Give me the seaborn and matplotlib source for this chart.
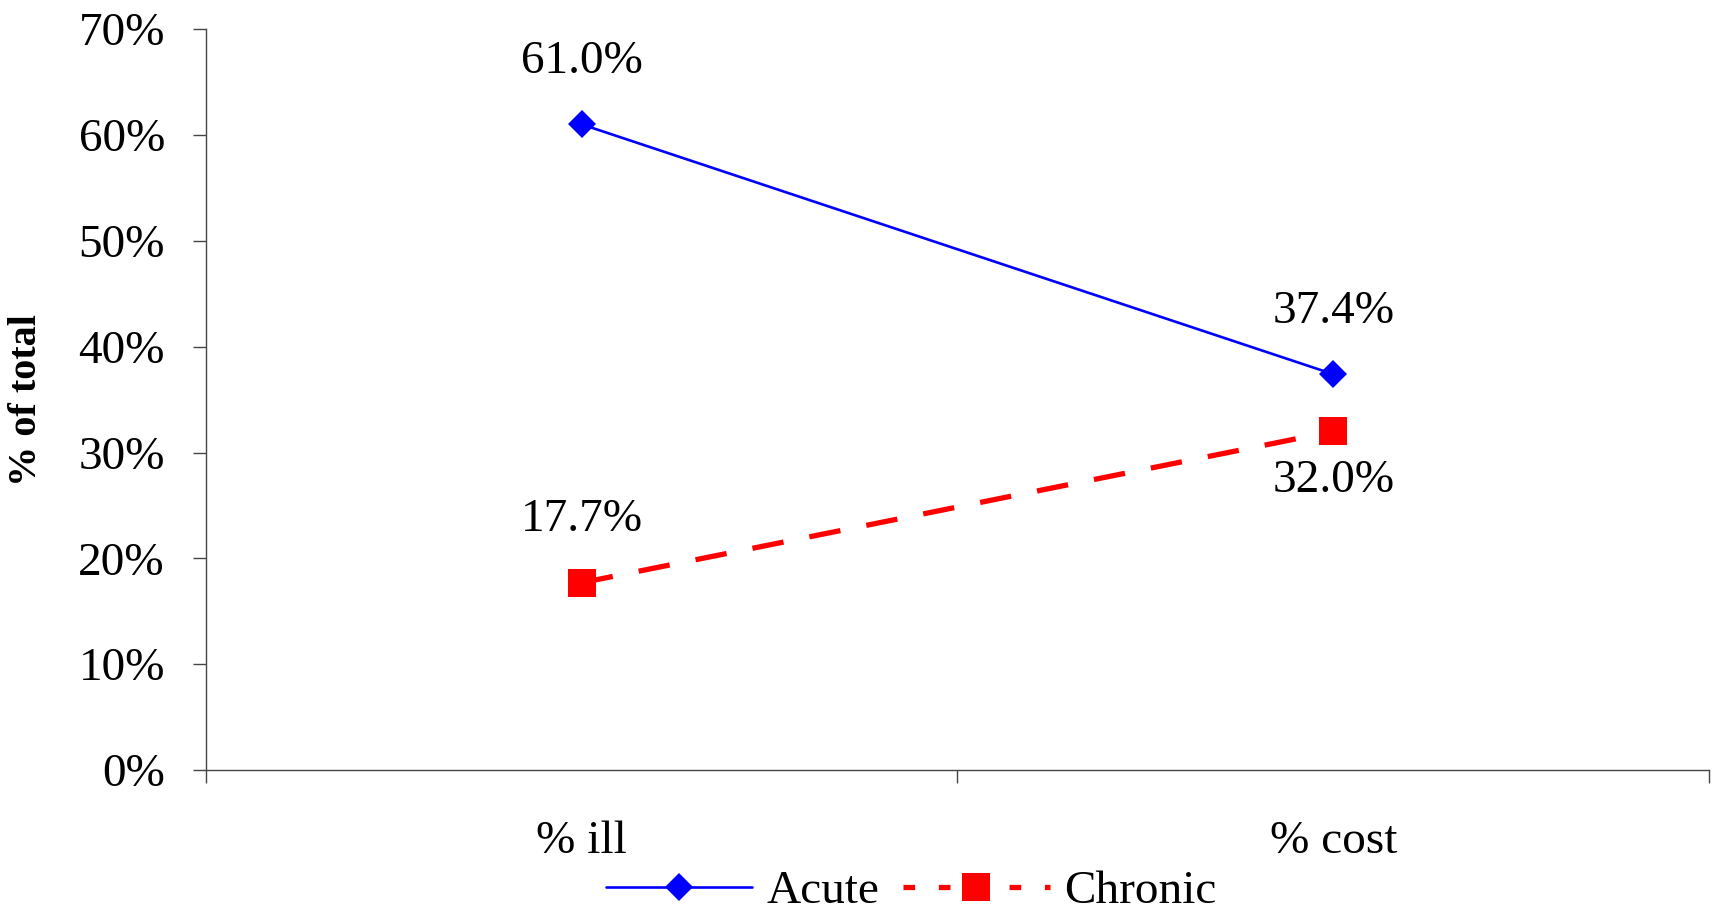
import matplotlib
matplotlib.use("Agg")
import matplotlib.pyplot as plt
import seaborn as sns
import pandas as pd
from matplotlib.ticker import FixedLocator, PercentFormatter
from matplotlib.lines import Line2D

categories = ["% ill", "% cost"]
acute = [61.0, 37.4]
chronic = [17.7, 32.0]
y_ticks = [0, 10, 20, 30, 40, 50, 60, 70]

sns.set_theme(style="white")
plt.rcParams["font.family"] = ["Liberation Serif", "DejaVu Serif"]
plt.rcParams["text.color"] = "black"
plt.rcParams["xtick.color"] = "black"
plt.rcParams["ytick.color"] = "black"
plt.rcParams["axes.labelcolor"] = "black"

df_a = pd.DataFrame({"cat": categories, "val": acute})
df_c = pd.DataFrame({"cat": categories, "val": chronic})

fig = plt.figure(figsize=(17.19, 9.10), dpi=100)
ax = fig.add_axes([0.1198, 0.1538, 0.9942 - 0.1198, 0.968 - 0.1538])

sns.lineplot(data=df_a, x="cat", y="val", ax=ax, color="#0000FF", lw=1.9,
             marker="D", markersize=14, markeredgewidth=0, sort=False)
sns.lineplot(data=df_c, x="cat", y="val", ax=ax, color="#FF0000", lw=3.8,
             marker="s", markersize=20, markeredgewidth=0, sort=False,
             linestyle=(0, (6, 5)))

ax.set_xlim(-0.5, 1.5)
ax.set_ylim(0, 70)
ax.yaxis.set_major_locator(FixedLocator(y_ticks))
ax.yaxis.set_major_formatter(PercentFormatter(decimals=0))

ax.set_xticks(range(len(categories)))
ax.set_xticklabels(categories)
ax.set_xticks([-0.5, 0.5, 1.5], minor=True)
ax.tick_params(axis="x", which="major", length=0, pad=36, labelsize=34, labelcolor="black")
ax.tick_params(axis="x", which="minor", length=9.5, width=1.0, color="#444444", direction="out", bottom=True)
ax.tick_params(axis="y", which="major", length=9.5, width=1.0, color="#444444", direction="out", left=True, pad=20, labelsize=34, labelcolor="black")

for s in ["top", "right"]:
    ax.spines[s].set_visible(False)
for s in ["left", "bottom"]:
    ax.spines[s].set_color("#444444")
    ax.spines[s].set_linewidth(1.0)

ax.set_xlabel("")
ax.set_ylabel("% of total", fontsize=29, fontweight="bold", color="black")
ax.yaxis.set_label_coords(-0.107, 0.5)

# data labels
for i, v in enumerate(acute):
    ax.annotate(f"{v:.1f}%", (i, v), xytext=(0, 30), textcoords="offset points",
                ha="center", va="bottom", fontsize=34, color="black")
ax.annotate(f"{chronic[0]:.1f}%", (0, chronic[0]), xytext=(0, 30), textcoords="offset points",
            ha="center", va="bottom", fontsize=34, color="black")
ax.annotate(f"{chronic[1]:.1f}%", (1, chronic[1]), xytext=(0, -20), textcoords="offset points",
            ha="center", va="top", fontsize=34, color="black")

handles = [
    Line2D([], [], color="#0000FF", lw=1.9, marker="D", markersize=14, markeredgewidth=0),
    Line2D([], [], color="#FF0000", lw=3.8, marker="s", markersize=20, markeredgewidth=0,
           linestyle=(0, (2.2, 4.5))),
]
fig.legend(handles, ["Acute", "Chronic"], loc="center", bbox_to_anchor=(0.53, 0.020),
           ncol=2, frameon=False, fontsize=34, handlelength=3.1, handletextpad=0.3,
           columnspacing=0.5, borderaxespad=0, labelcolor="black")

fig.savefig("out.png", dpi=100)
